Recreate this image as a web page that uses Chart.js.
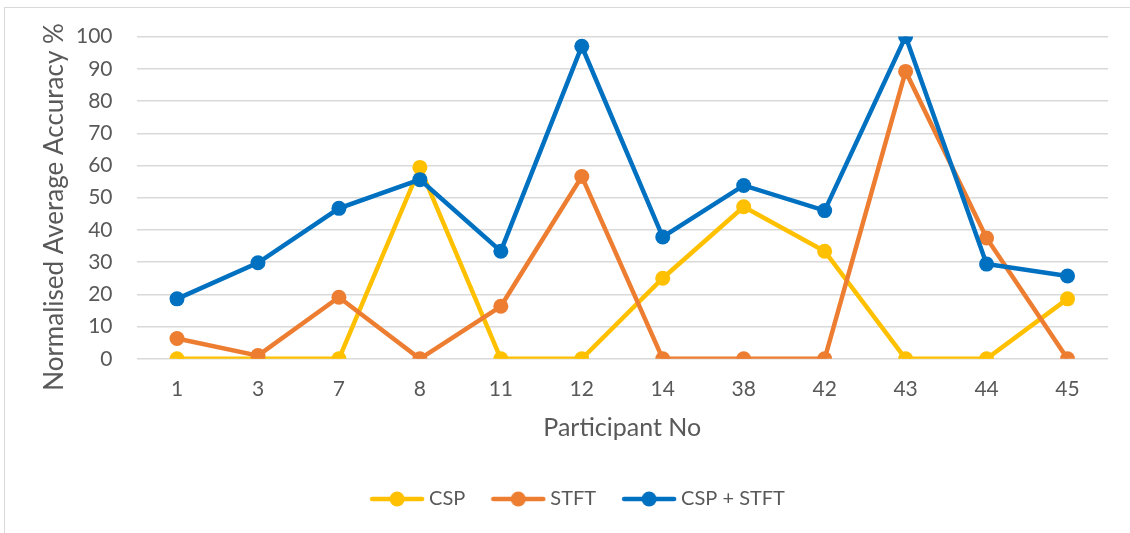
<!DOCTYPE html>
<html><head><meta charset="utf-8">
<script src="https://cdn.jsdelivr.net/npm/chart.js@4"></script>
<style>
html,body{margin:0;padding:0;background:#fff;overflow:hidden;}
#wrap{position:relative;width:1130px;height:533px;}
#frame{position:absolute;left:4px;top:7px;width:1140px;height:540px;border:1.5px solid #d9d9d9;box-sizing:border-box;}
canvas{position:absolute;left:0;top:0;}
</style></head>
<body><div id="wrap"><div id="frame"></div><canvas id="c" width="1130" height="533"></canvas></div>
<script>
const categories = ['1','3','7','8','11','12','14','38','42','43','44','45'];
const cspValues = [0,0,0,59.4,0,0,25,47.2,33.4,0,0,18.6];
const stftValues = [6.3,1,19.1,0,16.3,56.6,0,0,0,89.2,37.5,0];
const combinedValues = [18.6,29.8,46.7,55.6,33.4,97,37.8,53.8,46,100,29.4,25.7];
const seriesNames = ['CSP','STFT','CSP + STFT'];
const colors = ['#FFC000','#ED7D31','#0070C0'];
const yTitle = 'Normalised Average Accuracy %';
const xTitle = 'Participant No';

function legendIcon(color){
  const cv=document.createElement('canvas');cv.width=56;cv.height=16;
  const g=cv.getContext('2d');
  g.strokeStyle=color;g.lineWidth=4.5;g.lineCap='round';
  g.beginPath();g.moveTo(3,8);g.lineTo(53,8);g.stroke();
  g.fillStyle=color;g.beginPath();g.arc(28,8,7.5,0,Math.PI*2);g.fill();
  return cv;
}
const seriesData=[cspValues,stftValues,combinedValues];
const datasets=seriesData.map((d,i)=>({
  label:seriesNames[i],data:d,borderColor:colors[i],backgroundColor:colors[i],
  borderWidth:4.5,pointRadius:7.5,pointHoverRadius:7.5,pointBorderWidth:0,
  pointBackgroundColor:colors[i],tension:0,order:3-i
}));
const icons=colors.map(legendIcon);
const font='Lato, "Open Sans", sans-serif';
const yTitlePlugin={id:'yTitle',afterDraw(chart){
  const ctx=chart.ctx;ctx.save();
  ctx.translate(55,207);ctx.rotate(-Math.PI/2);
  ctx.font='26px '+font;ctx.fillStyle='#595959';ctx.textAlign='center';ctx.textBaseline='middle';
  ctx.fillText(yTitle,0,0);ctx.restore();
}};
new Chart(document.getElementById('c'),{
  type:'line',
  data:{labels:categories,datasets},
  plugins:[yTitlePlugin],
  options:{
    responsive:false,animation:false,
    layout:{padding:{left:52,right:22,top:23,bottom:14}},
    plugins:{
      legend:{position:'bottom',
        labels:{usePointStyle:true,pointStyleWidth:44,color:'#595959',font:{family:font,size:20},padding:31,
          generateLabels:(chart)=>chart.data.datasets.map((ds,i)=>({text:ds.label,fillStyle:colors[i],strokeStyle:colors[i],pointStyle:icons[i],lineWidth:0,datasetIndex:i,fontColor:'#595959'}))
        }},
      tooltip:{enabled:false}
    },
    scales:{
      x:{offset:true,grid:{display:false},border:{display:false},
        ticks:{color:'#595959',font:{family:font,size:21},padding:10},
        title:{display:true,text:xTitle,color:'#595959',font:{family:font,size:25},padding:{top:1,bottom:15}}},
      y:{min:0,max:100,grid:{color:'#d9d9d9',lineWidth:1.5,drawTicks:false},border:{display:false},
        ticks:{stepSize:10,color:'#595959',font:{family:font,size:21},padding:24},
        title:{display:false}}
    }
  }
});
</script></body></html>
